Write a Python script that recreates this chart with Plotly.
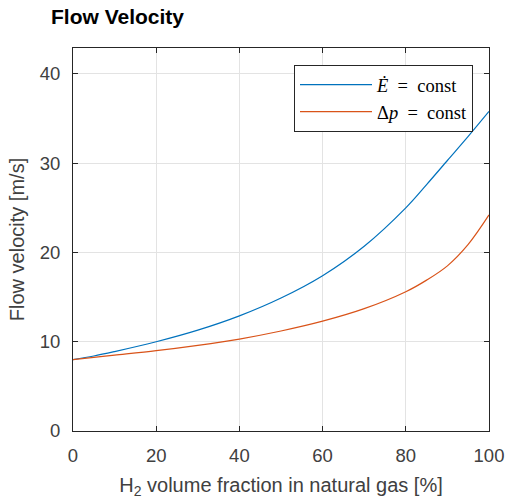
import plotly.graph_objects as go

h2_fraction = [0, 5, 10, 20, 30, 40, 50, 60, 70, 80, 85, 90, 95, 100]
velocity_energy_const = [8.0, 8.4, 8.9, 10.0, 11.3, 12.9, 14.9, 17.4, 20.7, 25.0, 27.6, 30.3, 33.0, 35.8]
velocity_pressure_const = [8.0, 8.25, 8.5, 9.0, 9.6, 10.3, 11.2, 12.3, 13.7, 15.6, 16.9, 18.5, 20.9, 24.2]
x_ticks = [0, 20, 40, 60, 80, 100]
y_ticks = [0, 10, 20, 30, 40]

axis_color = "#262626"
sans = "Liberation Sans, Arial, Helvetica, sans-serif"
tick_font = dict(family=sans, size=18.5, color="#404040")
label_font = dict(family=sans, size=20, color="#404040")

fig = go.Figure()
fig.add_trace(go.Scatter(
    x=h2_fraction, y=velocity_energy_const, mode="lines", line_shape="spline",
    name="<i>Ė</i>  =  const", line=dict(color="#0072BD", width=1.2)))
fig.add_trace(go.Scatter(
    x=h2_fraction, y=velocity_pressure_const, mode="lines", line_shape="spline",
    name="Δ<i>p</i>  =  const", line=dict(color="#D95319", width=1.2)))

fig.update_layout(
    width=508, height=501,
    margin=dict(l=73, r=19, t=48, b=70, autoexpand=False),
    paper_bgcolor="white", plot_bgcolor="white",
    title=dict(text="<b>Flow Velocity</b>", x=51/508, xanchor="left", y=1-17/501, yanchor="middle",
               font=dict(family=sans, size=21, color="black")),
    showlegend=True,
    legend=dict(x=(473-73)/416, xanchor="right", y=(431-65)/383, yanchor="top",
                bgcolor="white", bordercolor=axis_color, borderwidth=1,
                itemwidth=72,
                font=dict(family="Liberation Serif, DejaVu Serif, serif", size=18.5, color="black"),
                tracegroupgap=0),
    xaxis=dict(range=[0, 100], tickvals=x_ticks, ticks="inside", ticklen=5, tickcolor=axis_color,
               showline=True, linecolor=axis_color, linewidth=1, mirror="ticks",
               showgrid=True, gridcolor="#e3e3e3", gridwidth=1, zeroline=False, automargin=False,
               tickfont=tick_font, ticklabelstandoff=8,
               title=dict(text="H<sub>2</sub> volume fraction in natural gas [%]", font=label_font, standoff=12)),
    yaxis=dict(range=[0, 42.9], tickvals=y_ticks, ticks="inside", ticklen=5, tickcolor=axis_color,
               showline=True, linecolor=axis_color, linewidth=1, mirror="ticks",
               showgrid=True, gridcolor="#e3e3e3", gridwidth=1, zeroline=False, automargin=False,
               tickfont=tick_font, ticklabelstandoff=8,
               title=dict(text="Flow velocity [m/s]", font=label_font, standoff=9)),
)

fig.write_html("out.html")
